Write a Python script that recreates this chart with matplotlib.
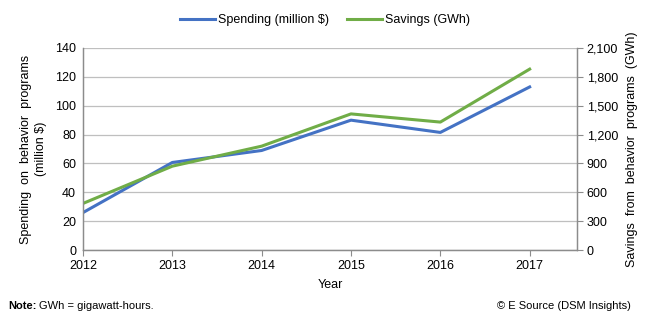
import matplotlib
matplotlib.use("Agg")
import matplotlib.pyplot as plt

plt.rcParams["font.family"] = ["Liberation Sans", "DejaVu Sans"]

BLUE = "#4472C4"
GREEN = "#70AD47"
GRID = "#BFBFBF"
AXIS = "#8C8C8C"

years = [2012, 2013, 2014, 2015, 2016, 2017]
spending = [26, 60.7, 69, 90, 81.5, 113]          # million $
savings = [485, 872, 1080, 1415, 1330, 1880]      # GWh

fig = plt.figure(figsize=(6.5, 3.24), dpi=100)
ax1 = fig.add_axes([0.1277, 0.228, 0.76, 0.624])
ax2 = ax1.twinx()

l1, = ax1.plot(years, spending, color=BLUE, lw=2.2, label="Spending (million $)")
l2, = ax2.plot(years, savings, color=GREEN, lw=2.2, label="Savings (GWh)")

ax1.set_xlim(2012, 2017.53)
ax1.set_ylim(0, 140)
ax1.set_yticks(range(0, 141, 20))
ax2.set_ylim(0, 2100)
ax2.set_yticks(range(0, 2101, 300))
ax2.set_yticklabels([f"{v:,}" for v in range(0, 2101, 300)])
ax1.set_xticks(years)

ax1.grid(axis="y", color=GRID, lw=0.9)
ax1.set_axisbelow(True)

for ax in (ax1, ax2):
    ax.spines["top"].set_visible(False)
    for s in ("left", "right", "bottom"):
        ax.spines[s].set_color(AXIS)
        ax.spines[s].set_linewidth(0.9)

ax1.tick_params(axis="y", length=0, labelsize=9, pad=5)
ax1.tick_params(axis="x", direction="out", length=4, color=AXIS, labelsize=9, pad=3)
ax2.tick_params(axis="y", direction="out", length=4, color=AXIS, labelsize=9, pad=3)

ax1.set_xlabel("Year", fontsize=9, labelpad=5)
ax1.set_ylabel("Spending  on  behavior  programs\n(million $)", fontsize=9,
               linespacing=1.35, labelpad=6)
ax2.set_ylabel("Savings  from  behavior  programs  (GWh)", fontsize=9, labelpad=6)

fig.legend(handles=[l1, l2], loc="upper center", bbox_to_anchor=(0.5, 0.99),
           ncol=2, frameon=False, fontsize=9, handlelength=2.8,
           handletextpad=0.2, columnspacing=1.5)

fig.text(0.012, 0.045, "Note:", fontsize=8, fontweight="bold")
fig.text(0.06, 0.045, "GWh = gigawatt-hours.", fontsize=8)
fig.text(0.97, 0.045, "\u00a9 E Source (DSM Insights)", fontsize=8, ha="right")

fig.savefig("out.png", dpi=100)
